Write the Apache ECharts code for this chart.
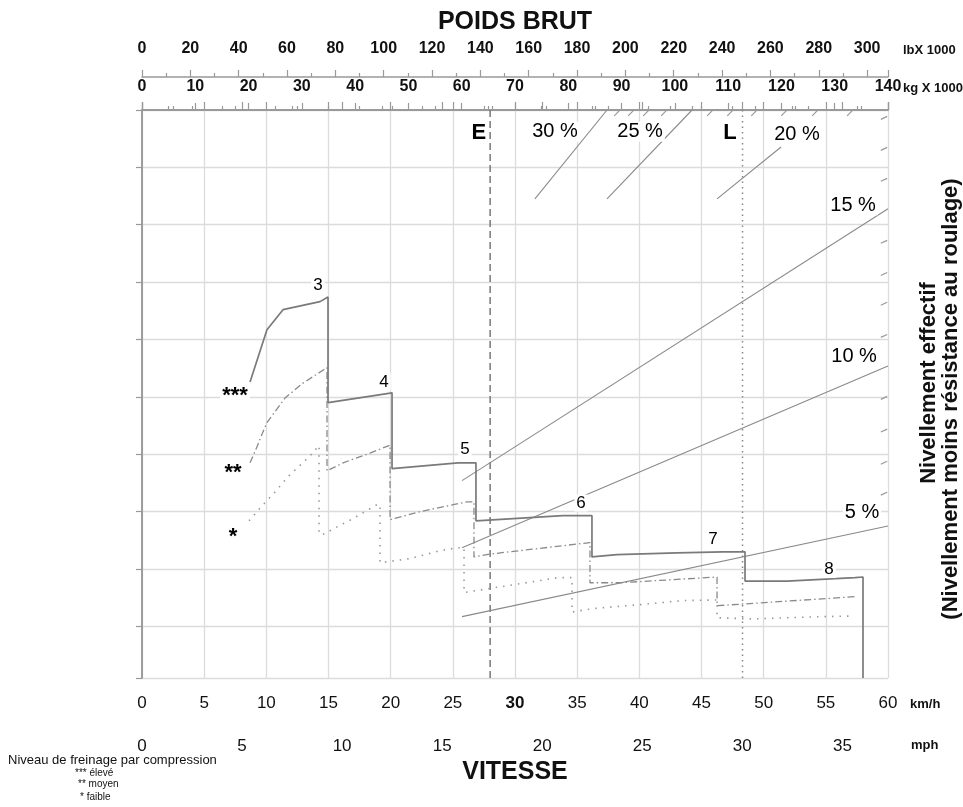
<!DOCTYPE html>
<html><head><meta charset="utf-8">
<script src="https://cdn.jsdelivr.net/npm/echarts@6/dist/echarts.min.js"></script>
<style>html,body{margin:0;padding:0;background:#fff}#c{width:963px;height:807px}</style>
</head><body><div id="c"></div>
<script>
// ---------- axis ranges ----------
const kmhMax = 60;
const mphMax = 37.28;
const kgMax = 140;
const lbMax = 308.65;
const levelMax = 9.9;

// ---------- retarder curves (speed km/h, level in chart units from top) ----------
const eleveSpeed = [8.69,10.05,11.34,14.32,14.96,14.96,20.11,20.11,25.42,26.86,26.86,33.86,36.19,36.19,38.2,43.03,46.73,48.5,48.5,51.88,57.35,57.99,57.99];
const eleveLevel = [4.74,3.83,3.48,3.34,3.26,5.10,4.93,6.25,6.15,6.15,7.16,7.07,7.07,7.79,7.75,7.72,7.70,7.70,8.21,8.21,8.15,8.14,9.9];

const moyenSpeed = [8.69,9.25,9.73,10.05,11.50,12.95,14.88,14.88,16.17,18.34,19.95,19.95,22.36,26.14,26.70,26.70,27.99,36.03,36.03,38.45,46.25,46.25,57.51];
const moyenLevel = [6.15,5.87,5.61,5.45,5.02,4.76,4.49,6.29,6.15,5.98,5.84,7.14,7.00,6.83,6.83,7.79,7.74,7.54,8.24,8.24,8.14,8.64,8.48];

const faibleSpeed = [8.61,9.65,10.78,11.74,13.51,14.24,14.24,14.64,16.17,16.81,18.9,19.14,19.14,21.56,23.97,25.42,25.9,25.9,29.44,33.46,34.59,34.59,36.27,40.62,43.51,46.25,46.25,49.06,54.77,57.1];
const faibleLevel = [7.16,6.90,6.64,6.39,6.03,5.85,7.39,7.39,7.21,7.14,6.88,6.88,7.89,7.82,7.68,7.63,7.63,8.41,8.29,8.15,8.15,8.75,8.69,8.61,8.55,8.54,8.85,8.87,8.83,8.82];

// ---------- grade lines ----------
const gradeNames = ['5 %','10 %','15 %','20 %','25 %','30 %'];
const gradeFromSpeed = [25.74,25.74,25.74,46.25,37.4,31.6];
const gradeFromLevel = [8.83,7.63,6.46,1.55,1.55,1.55];
const gradeToSpeed = [60,60,60,51.4,44.24,37.4];
const gradeToLevel = [7.25,4.46,1.72,0.645,0,0];
const gradeLabelSpeed = [57.91,57.27,57.19,52.68,40.06,33.22];
const gradeLabelLevel = [7.02,4.30,1.66,0.42,0.38,0.38];

// grade hatch marks on the frame
const hatchTopSpeed = [38.37,39.49,40.7,42.14,45.84,47.46,49.39,51.8,54.29,57.1];
const hatchRightLevel = [0.12,0.66,1.20,2.28,2.84,3.36,3.92,5.00,5.57,6.13,6.67];

// ---------- gear labels ----------
const gears = ['3','4','5','6','7','8'];
const gearSpeed = [14.16,19.46,25.98,35.31,45.93,55.26];
const gearLevel = [3.05,4.74,5.91,6.85,7.49,8.01];

// ---------- braking level marks ----------
const levelMarks = ['***','**','*'];
const markSpeed = [7.48,7.32,7.32];
const markLevel = [4.98,6.32,7.44];

// ---------- reference speeds E / L ----------
const refNames = ['E','L'];
const refSpeed = [28.0,48.3];
const refLabelSpeed = [27.1,47.29];
const refLabelLevel = [0.40,0.40];

// ---------- texts ----------
const legendTitle = 'Niveau de freinage par compression';
const legendLines = ['*** élevé','** moyen','* faible'];

const FF = '"Liberation Sans", Arial, Helvetica, sans-serif';
const zip = (a,b) => a.map((v,i)=>[v,b[i]]);

const chart = echarts.init(document.getElementById('c'), null, {renderer:'canvas'});

const gradeSeries = gradeNames.map((n,i)=>({
  type:'line', name:n, silent:true, showSymbol:false, z:3,
  data:[[gradeFromSpeed[i],gradeFromLevel[i]],[gradeToSpeed[i],gradeToLevel[i]]],
  lineStyle:{color:'#8a8a8a', width:1.1}
}));

const refSeries = refNames.map((n,i)=>({
  type:'line', name:n, silent:true, showSymbol:false, z:2,
  data:[[refSpeed[i],0],[refSpeed[i],levelMax]],
  lineStyle:{color: i===0 ? '#777' : '#888', width:1.5, type: i===0 ? [7,4] : [1.5,4]}
}));

const labelScatter = (names, xs, ys, fontSize, bold, bg) => ({
  type:'scatter', silent:true, symbolSize:1, z:12,
  itemStyle:{color:'rgba(255,255,255,0)', opacity:1},
  emphasis:{disabled:true},
  data: names.map((n,i)=>({name:n, value:[xs[i],ys[i]]})),
  label:{show:true, position:'inside', formatter:'{b}', color:'#000', opacity:1,
    fontFamily:FF, fontSize:fontSize, fontWeight: bold ? 'bold':'normal',
    backgroundColor: bg ? '#fff' : 'transparent', padding:[0,2]}
});

const option = {
  animation:false,
  backgroundColor:'#fff',
  textStyle:{fontFamily:FF},
  grid:{left:142, right:75, top:110, bottom:129, containLabel:false, outerBoundsMode:'none'},
  xAxis:[
    { // km/h
      type:'value', position:'bottom', min:0, max:kmhMax, interval:5,
      axisLine:{show:true, lineStyle:{color:'#999', width:1.5}},
      axisTick:{show:true, inside:true, length:8, lineStyle:{color:'#999', width:1.2}},
      minorTick:{show:true, splitNumber:2, length:4, lineStyle:{color:'#999', width:1.2}},
      splitLine:{show:true, lineStyle:{color:'#dcdcdc', width:1.3}},
      axisLabel:{margin:17, fontSize:17, color:'#111', fontFamily:FF,
        formatter:v => v===30 ? '{b|30}' : String(v),
        rich:{b:{fontWeight:'bold', fontSize:17, color:'#111', fontFamily:FF}}}
    },
    { // mph
      type:'value', position:'bottom', offset:48, min:0, max:mphMax, interval:5,
      name:'VITESSE', nameLocation:'middle', nameGap:34,
      nameTextStyle:{fontSize:25, fontWeight:'bold', color:'#111', fontFamily:FF},
      axisLine:{show:true, lineStyle:{color:'#999', width:1.5}},
      axisTick:{show:true, inside:true, length:8, lineStyle:{color:'#999', width:1.2}},
      minorTick:{show:true, splitNumber:2, length:4, lineStyle:{color:'#999', width:1.2}},
      splitLine:{show:false},
      axisLabel:{margin:12, fontSize:17, color:'#111', fontFamily:FF, showMaxLabel:false}
    },
    { // kg x 1000
      type:'value', position:'top', min:0, max:kgMax, interval:10,
      axisLine:{show:true, lineStyle:{color:'#999', width:1.5}},
      axisTick:{show:true, inside:false, length:7, lineStyle:{color:'#999', width:1.2}},
      minorTick:{show:true, splitNumber:2, length:4, lineStyle:{color:'#999', width:1.2}},
      splitLine:{show:false},
      axisLabel:{margin:15, fontSize:16, fontWeight:'bold', color:'#111', fontFamily:FF}
    },
    { // lb x 1000
      type:'value', position:'top', offset:33, min:0, max:lbMax, interval:20,
      name:'POIDS BRUT', nameLocation:'middle', nameGap:42,
      nameTextStyle:{fontSize:25, fontWeight:'bold', color:'#111', fontFamily:FF},
      axisLine:{show:true, lineStyle:{color:'#999', width:1.5}},
      axisTick:{show:true, inside:false, length:7, lineStyle:{color:'#999', width:1.2}},
      minorTick:{show:true, splitNumber:2, length:4, lineStyle:{color:'#999', width:1.2}},
      splitLine:{show:false},
      axisLabel:{margin:20, fontSize:16, fontWeight:'bold', color:'#111', fontFamily:FF, showMaxLabel:false}
    }
  ],
  yAxis:[
    {
      type:'value', position:'left', inverse:true, min:0, max:levelMax, interval:1,
      axisLine:{show:true, lineStyle:{color:'#999', width:1.5}},
      axisTick:{show:true, inside:false, length:6, lineStyle:{color:'#999', width:1.2}},
      axisLabel:{show:false},
      splitLine:{show:true, lineStyle:{color:'#dcdcdc', width:1.3}}
    },
    {
      type:'value', position:'right', inverse:true, min:0, max:levelMax, interval:1,
      axisLine:{show:true, lineStyle:{color:'#999', width:1.5}},
      axisTick:{show:false}, axisLabel:{show:false}, splitLine:{show:false}
    }
  ],
  series:[
    ...refSeries,
    ...gradeSeries,
    {type:'line', name:'élevé', silent:true, showSymbol:false, z:6,
      data:zip(eleveSpeed, eleveLevel), lineStyle:{color:'#7a7a7a', width:1.7}},
    {type:'line', name:'moyen', silent:true, showSymbol:false, z:5,
      data:zip(moyenSpeed, moyenLevel), lineStyle:{color:'#8a8a8a', width:1.3, type:[7,3,1.5,3]}},
    {type:'line', name:'faible', silent:true, showSymbol:false, z:4,
      data:zip(faibleSpeed, faibleLevel), lineStyle:{color:'#999', width:1.6, type:[1.5,6]}},
    {type:'scatter', silent:true, z:4, symbol:'rect', symbolSize:[8,1.2], symbolRotate:45, symbolOffset:[-2,3],
      itemStyle:{color:'#999', opacity:1}, data:hatchTopSpeed.map(s=>[s,0])},
    {type:'scatter', silent:true, z:4, symbol:'rect', symbolSize:[7,1.2], symbolRotate:25, symbolOffset:[-4,1],
      itemStyle:{color:'#999', opacity:1}, data:hatchRightLevel.map(l=>[kmhMax,l])},
    labelScatter(gears, gearSpeed, gearLevel, 17, false, true),
    labelScatter(gradeNames, gradeLabelSpeed, gradeLabelLevel, 20, false, true),
    labelScatter(levelMarks, markSpeed, markLevel, 22, true, true),
    labelScatter(refNames, refLabelSpeed, refLabelLevel, 22, true, true)
  ],
  graphic:[
    {type:'text', x:903, y:50, silent:true, style:{text:'lbX 1000', fill:'#111', font:'bold 13px '+FF, verticalAlign:'middle', align:'left'}},
    {type:'text', x:903, y:88, silent:true, style:{text:'kg X 1000', fill:'#111', font:'bold 13px '+FF, verticalAlign:'middle', align:'left'}},
    {type:'text', x:910, y:704, silent:true, style:{text:'km/h', fill:'#111', font:'bold 13px '+FF, verticalAlign:'middle', align:'left'}},
    {type:'text', x:911, y:745, silent:true, style:{text:'mph', fill:'#111', font:'bold 13px '+FF, verticalAlign:'middle', align:'left'}},
    {type:'text', x:929, y:383, rotation:Math.PI/2, silent:true, style:{text:'Nivellement effectif', fill:'#111', font:'bold 22px '+FF, verticalAlign:'middle', align:'center'}},
    {type:'text', x:951, y:399, rotation:Math.PI/2, silent:true, style:{text:'(Nivellement moins résistance au roulage)', fill:'#111', font:'bold 22px '+FF, verticalAlign:'middle', align:'center'}},
    {type:'text', x:8, y:760, silent:true, style:{text:legendTitle, fill:'#111', font:'13px '+FF, verticalAlign:'middle', align:'left'}},
    {type:'text', x:75, y:773, silent:true, style:{text:legendLines[0], fill:'#111', font:'10px '+FF, verticalAlign:'middle', align:'left'}},
    {type:'text', x:78, y:784, silent:true, style:{text:legendLines[1], fill:'#111', font:'10px '+FF, verticalAlign:'middle', align:'left'}},
    {type:'text', x:80, y:797, silent:true, style:{text:legendLines[2], fill:'#111', font:'10px '+FF, verticalAlign:'middle', align:'left'}}
  ]
};
chart.setOption(option);
</script>
</body></html>
